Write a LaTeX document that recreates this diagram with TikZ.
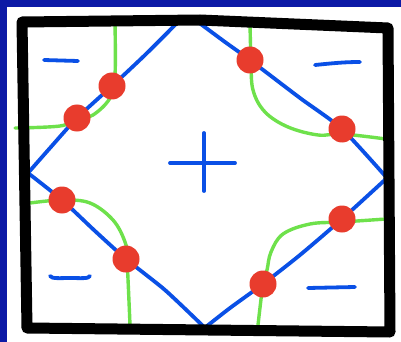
\documentclass[tikz,border=0pt]{standalone}
\definecolor{navy}{RGB}{12,26,166}
\definecolor{penblue}{RGB}{10,80,230}
\definecolor{pengreen}{RGB}{110,225,75}
\definecolor{penred}{RGB}{232,60,45}
\tikzset{
  frame/.style={line width=11pt,line join=round,line cap=round,black},
  bluepen/.style={line width=3.8pt,line cap=round,line join=round,penblue},
  greenpen/.style={line width=3.4pt,line cap=round,line join=round,pengreen},
  dot/.style={circle,fill=penred,inner sep=0pt,minimum size=27pt}
}
\begin{document}
\begin{tikzpicture}[x=1pt,y=-1pt]
\fill[navy] (0,0) rectangle (401,342);
\fill[white] (7,7) rectangle (401,342);
\useasboundingbox (0,0) rectangle (401,342);
% green curves
\draw[greenpen] plot[smooth,tension=0.6] coordinates {(115,24) (115,75) (110,98) (93,115) (77,119) (60,126) (15,128)};
\draw[greenpen] plot[smooth,tension=0.6] coordinates {(250,24) (251,60) (253,90) (265,112) (288,127) (318,135) (342,134) (386,139)};
\draw[greenpen] plot[smooth,tension=0.6] coordinates {(30,203) (62,200) (90,203) (113,220) (125,242) (127,259) (130,325)};
\draw[greenpen] plot[smooth,tension=0.6] coordinates {(386,219) (342,222) (310,224) (283,234) (271,252) (267,270) (263,284) (257,334)};
% blue diamond
\draw[bluepen] plot[smooth,tension=0.4] coordinates {(178,22) (145,55) (112,86) (77,118) (50,148) (28,173)};
\draw[bluepen] plot[smooth,tension=0.4] coordinates {(198,22) (225,42) (250,60) (300,98) (342,129) (387,178)};
\draw[bluepen] plot[smooth,tension=0.4] coordinates {(387,178) (342,219) (300,255) (263,284) (230,308) (207,326)};
\draw[bluepen] plot[smooth,tension=0.4] coordinates {(203,326) (165,290) (126,259) (95,231) (62,200) (28,173)};
% signs
\draw[bluepen] (44,60) -- (78,61);
\draw[bluepen] (315,65) .. controls (335,63) and (345,62) .. (360,62);
\draw[bluepen] (50,276) .. controls (52,279) and (60,278) .. (70,278) .. controls (80,278) and (89,279) .. (90,276);
\draw[bluepen] (308,288) -- (355,287);
\draw[bluepen] (170,163) -- (235,163);
\draw[bluepen] (204,133) -- (204,191);
% frame
\draw[frame] (22,22) -- (200,20) -- (388,28) -- (390,332) -- (27,328) -- cycle;
% red dots
\node[dot] (d1) at (112,86) {};
\node[dot] (d2) at (77,118) {};
\node[dot] (d3) at (250,60) {};
\node[dot] (d4) at (342,129) {};
\node[dot] (d5) at (62,200) {};
\node[dot] (d6) at (126,259) {};
\node[dot] (d7) at (342,219) {};
\node[dot] (d8) at (263,284) {};
\end{tikzpicture}
\end{document}
